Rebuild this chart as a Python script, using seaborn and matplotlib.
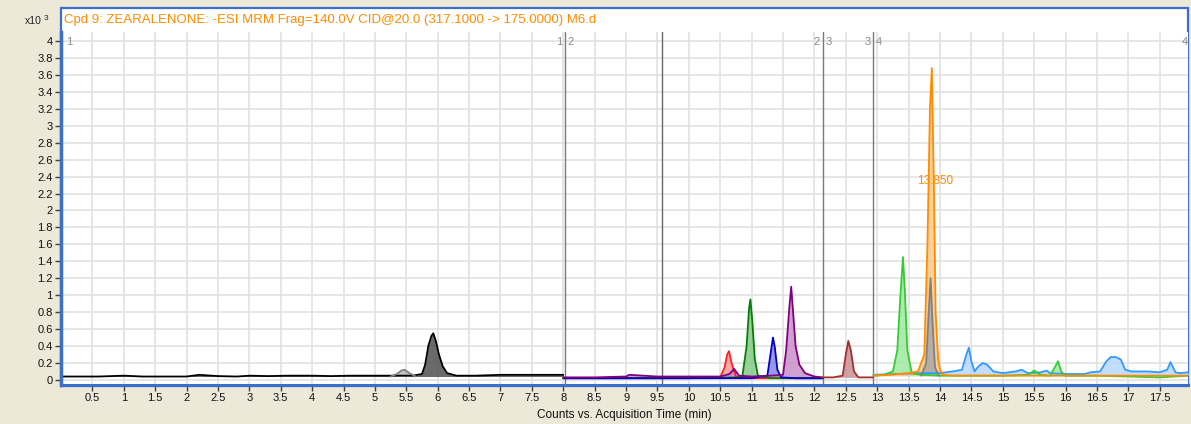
import pandas as pd
import numpy as np
import matplotlib.pyplot as plt
import seaborn as sns
from matplotlib.patches import Rectangle

sns.set_theme(style='white')
plt.rcParams['font.family'] = ['Liberation Sans', 'DejaVu Sans']

# Chromatogram data (time in min, counts in x10^3)
black_t = [0.0, 0.3, 0.6, 1.0, 1.3, 1.6, 2.0, 2.2, 2.5, 2.8, 3.0, 3.3, 3.6, 4.0, 4.3, 4.6,
           5.0, 5.3, 5.6, 5.75, 5.8, 5.85, 5.9, 5.93, 5.97, 6.02, 6.08, 6.15, 6.3, 6.6,
           7.0, 7.3, 7.6, 8.0]
black_v = [0.04, 0.04, 0.04, 0.05, 0.04, 0.04, 0.04, 0.06, 0.045, 0.04, 0.05, 0.045, 0.05, 0.05, 0.045, 0.05,
           0.05, 0.05, 0.05, 0.07, 0.18, 0.40, 0.52, 0.55, 0.46, 0.30, 0.16, 0.08, 0.05, 0.05,
           0.06, 0.06, 0.06, 0.06]

lgray_t = [5.25, 5.35, 5.42, 5.47, 5.55, 5.65]
lgray_v = [0.04, 0.07, 0.11, 0.12, 0.08, 0.04]

purple_t = [8.0, 8.5, 9.0, 9.05, 9.5, 10.0, 10.5, 10.65, 10.72, 10.8, 11.0, 11.3, 11.5,
            11.55, 11.6, 11.63, 11.66, 11.7, 11.76, 11.85, 12.0, 12.13]
purple_v = [0.03, 0.03, 0.04, 0.06, 0.04, 0.04, 0.04, 0.07, 0.13, 0.05, 0.04, 0.05, 0.06,
            0.35, 0.85, 1.10, 0.80, 0.40, 0.18, 0.08, 0.04, 0.03]

red_t = [8.0, 9.0, 10.0, 10.5, 10.57, 10.61, 10.64, 10.68, 10.75, 11.0, 12.13]
red_v = [0.02, 0.02, 0.02, 0.03, 0.15, 0.30, 0.34, 0.20, 0.04, 0.02, 0.02]

green_t = [8.0, 10.0, 10.85, 10.92, 10.96, 10.98, 11.01, 11.05, 11.1, 11.3, 12.13]
green_v = [0.02, 0.02, 0.03, 0.40, 0.85, 0.95, 0.70, 0.25, 0.05, 0.02, 0.02]

blue_t = [8.0, 10.0, 11.0, 11.25, 11.3, 11.34, 11.37, 11.41, 11.47, 11.7, 12.13]
blue_v = [0.02, 0.02, 0.02, 0.05, 0.30, 0.50, 0.38, 0.12, 0.03, 0.02, 0.02]

brown_t = [12.13, 12.3, 12.45, 12.5, 12.54, 12.58, 12.63, 12.7, 12.94]
brown_v = [0.03, 0.03, 0.05, 0.30, 0.46, 0.35, 0.10, 0.03, 0.03]

lime_t = [12.94, 13.1, 13.25, 13.32, 13.37, 13.41, 13.44, 13.48, 13.55, 13.7, 14.0, 14.5, 15.0,
          15.4, 15.5, 15.6, 15.75, 15.83, 15.88, 15.93, 16.0, 16.5, 17.0, 17.5, 17.95]
lime_v = [0.05, 0.06, 0.10, 0.35, 1.00, 1.45, 1.05, 0.35, 0.08, 0.06, 0.05, 0.05, 0.05,
          0.06, 0.11, 0.06, 0.05, 0.15, 0.22, 0.10, 0.05, 0.05, 0.04, 0.03, 0.05]

orange_t = [12.94, 13.2, 13.5, 13.65, 13.75, 13.8, 13.84, 13.87, 13.9, 13.93, 13.97, 14.0,
            14.05, 14.2, 15.0, 16.0, 17.0, 17.95]
orange_v = [0.05, 0.06, 0.08, 0.10, 0.30, 1.60, 3.20, 3.68, 2.40, 0.80, 0.25, 0.12,
            0.06, 0.05, 0.05, 0.05, 0.05, 0.05]

gray_t = [13.7, 13.78, 13.82, 13.85, 13.88, 13.92, 13.98]
gray_v = [0.05, 0.20, 0.80, 1.20, 0.70, 0.15, 0.05]

sky_t = [12.94, 13.3, 13.7, 14.0, 14.2, 14.35, 14.42, 14.46, 14.5, 14.55, 14.6, 14.68, 14.75,
         14.85, 15.0, 15.2, 15.3, 15.4, 15.6, 15.7, 15.75, 16.0, 16.3, 16.4, 16.55, 16.65,
         16.72, 16.8, 16.88, 16.95, 17.05, 17.3, 17.5, 17.62, 17.67, 17.71, 17.75, 17.82, 17.95]
sky_v = [0.06, 0.07, 0.08, 0.08, 0.10, 0.12, 0.30, 0.38, 0.22, 0.10, 0.15, 0.20, 0.18,
         0.10, 0.08, 0.10, 0.12, 0.08, 0.09, 0.11, 0.08, 0.07, 0.07, 0.09, 0.10, 0.22,
         0.27, 0.27, 0.24, 0.12, 0.10, 0.10, 0.09, 0.12, 0.21, 0.15, 0.09, 0.08, 0.09]

segment_edges = [8.02, 12.13, 12.94]
extra_line = 9.57
peak_label = '13.850'
peak_label_pos = (13.92, 2.35)

title = 'Cpd 9: ZEARALENONE: -ESI MRM Frag=140.0V CID@20.0 (317.1000 -> 175.0000) M6.d'

# name: (times, values, line colour, fill colour, fill base)
traces = {
    'black': (black_t, black_v, '#000000', '#505050', 0.04),
    'lgray': (lgray_t, lgray_v, '#808080', '#B8B8B8', 0.04),
    'red': (red_t, red_v, '#FF2020', '#FF9A9A', 0.02),
    'green': (green_t, green_v, '#008000', '#88C888', 0.02),
    'blue': (blue_t, blue_v, '#0000CC', '#8888E0', 0.02),
    'purple': (purple_t, purple_v, '#800080', '#C890C8', 0.03),
    'brown': (brown_t, brown_v, '#A03030', '#C89090', 0.03),
    'sky': (sky_t, sky_v, '#3399FF', '#B8D8FF', 0.05),
    'lime': (lime_t, lime_v, '#33CC33', '#A0E8A0', 0.05),
    'orange': (orange_t, orange_v, '#FF8C00', '#FFC888', 0.05),
    'gray': (gray_t, gray_v, '#808080', '#A8A8A8', 0.05),
}

rows = []
for name, (t, v, _, _, _) in traces.items():
    for ti, vi in zip(t, v):
        rows.append({'time': ti, 'counts': vi, 'trace': name})
df = pd.DataFrame(rows)

palette = {name: spec[2] for name, spec in traces.items()}

W, H = 1191, 424
fig = plt.figure(figsize=(W / 100, H / 100), dpi=100, facecolor='#ECE9D8')

frame_blue = '#3B6FC9'
# white panel with the title band, behind the axes
fig.patches.append(Rectangle((61 / W, (H - 386) / H), (1188 - 61) / W, (386 - 8) / H,
                             transform=fig.transFigure, facecolor='white',
                             edgecolor=frame_blue, linewidth=1.6, zorder=-5))
fig.text(64 / W, (H - 20) / H, title, color='#FF8C00', fontsize=9.5, va='center', ha='left')
fig.text(42 / W, (H - 21) / H, 'x10', fontsize=7.5, va='center', ha='right', color='#222222')
fig.text(44 / W, (H - 18) / H, '3', fontsize=6, va='center', ha='left', color='#222222')

ax = fig.add_axes([61 / W, (H - 385) / H, (1188 - 61) / W, (385 - 32) / H])
ax.set_facecolor('white')

for name, (t, v, lc, fc, base) in traces.items():
    ax.fill_between(t, v, base, color=fc, alpha=0.85, linewidth=0, zorder=1.5)

sns.lineplot(data=df, x='time', y='counts', hue='trace', hue_order=list(traces.keys()),
             palette=palette, estimator=None, sort=False, legend=False,
             linewidth=1.3, ax=ax, zorder=2)

for xe in segment_edges:
    ax.axvline(xe, color='#7A7A7A', linewidth=1.0, zorder=1.8)
ax.axvline(extra_line, color='#6A6A6A', linewidth=1.0, zorder=1.8)

seg_col = '#8A8A8A'
ytxt = 3.99
ax.text(0.08, ytxt, '1', color=seg_col, fontsize=8, ha='left', va='center')
for i, xe in enumerate(segment_edges):
    ax.text(xe - 0.04, ytxt, str(i + 1), color=seg_col, fontsize=8, ha='right', va='center')
    ax.text(xe + 0.04, ytxt, str(i + 2), color=seg_col, fontsize=8, ha='left', va='center')
ax.text(17.95, ytxt, '4', color=seg_col, fontsize=8, ha='right', va='center')

ax.text(*peak_label_pos, peak_label, color='#FF8C00', fontsize=8.5, ha='center', va='center')

ax.set_xlim(0, 17.95)
ax.set_ylim(-0.06, 4.106)

xt = np.arange(0.5, 17.51, 0.5)
ax.set_xticks(xt)
ax.set_xticklabels([f'{x:g}' for x in xt])
yt = np.arange(0, 4.01, 0.2)
ax.set_yticks(yt)
ax.set_yticklabels([f'{round(y, 1):g}' for y in yt])

ax.grid(True, color='#E2E2E2', linewidth=1.2)
ax.set_axisbelow(True)
ax.tick_params(axis='both', direction='out', length=4, width=1, color='#404040',
               labelsize=8, labelcolor='#111111', pad=2)
ax.tick_params(axis='x', bottom=True)
ax.tick_params(axis='y', left=True)

for side in ['top', 'right']:
    ax.spines[side].set_visible(False)
ax.spines['left'].set_color(frame_blue)
ax.spines['left'].set_linewidth(2.5)
ax.spines['bottom'].set_color(frame_blue)
ax.spines['bottom'].set_linewidth(2.2)

ax.set_xlabel('Counts vs. Acquisition Time (min)', fontsize=8.5, color='#111111', labelpad=4)
ax.set_ylabel('')

fig.savefig('out.png', dpi=100, facecolor=fig.get_facecolor())
